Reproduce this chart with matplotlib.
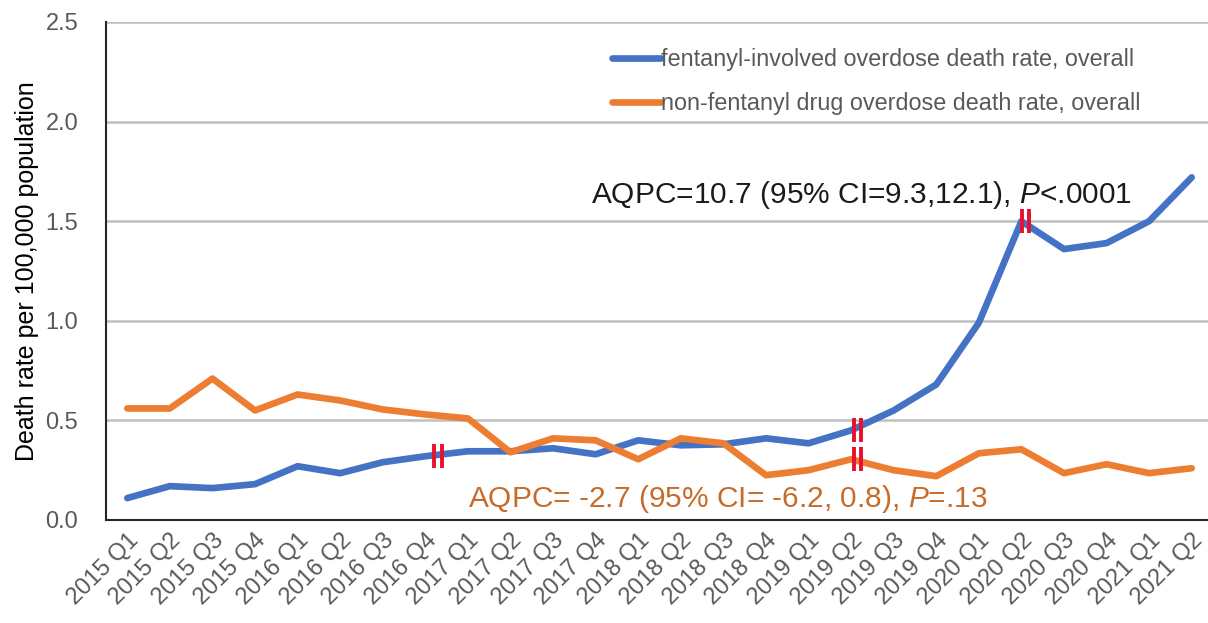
import numpy as np
import matplotlib
matplotlib.use("Agg")
import matplotlib.pyplot as plt

plt.rcParams['font.family'] = ['Liberation Sans', 'DejaVu Sans']
plt.rcParams['mathtext.fontset'] = 'custom'
plt.rcParams['mathtext.rm'] = 'Liberation Sans'
plt.rcParams['mathtext.it'] = 'Liberation Sans:italic'

quarters = [f"{y} Q{q}" for y in range(2015, 2022) for q in range(1, 5)][:26]

fentanyl = [0.11, 0.17, 0.16, 0.18, 0.27, 0.235, 0.29, 0.32, 0.345, 0.345,
            0.36, 0.33, 0.40, 0.375, 0.38, 0.41, 0.385, 0.45, 0.55, 0.68,
            0.99, 1.50, 1.36, 1.39, 1.50, 1.72]
non_fentanyl = [0.56, 0.56, 0.71, 0.55, 0.63, 0.60, 0.555, 0.53, 0.51, 0.34,
                0.41, 0.40, 0.305, 0.41, 0.385, 0.225, 0.25, 0.305, 0.25, 0.22,
                0.335, 0.355, 0.235, 0.28, 0.235, 0.26]

# joinpoint breaks: (quarter index, series, small x nudge)
breaks = [(7, 'fent', 0.3), (17, 'fent', 0.15), (17, 'non', 0.15), (21, 'fent', 0.1)]

blue = '#4472c4'
orange = '#ed7d31'
gray_text = '#595959'

fig = plt.figure(figsize=(12.08, 6.23), dpi=100)
ax = fig.add_axes([106 / 1208, 103 / 623, 1107 / 1208, 498 / 623])

x = np.arange(len(quarters))
ax.plot(x, fentanyl, color=blue, lw=4.8, solid_capstyle='round', solid_joinstyle='round',
        label='fentanyl-involved overdose death rate, overall', zorder=3)
ax.plot(x, non_fentanyl, color=orange, lw=4.8, solid_capstyle='round', solid_joinstyle='round',
        label='non-fentanyl drug overdose death rate, overall', zorder=3)

series = {'fent': fentanyl, 'non': non_fentanyl}
for idx, key, dx in breaks:
    yv = series[key][idx]
    for off in (-0.085, 0.085):
        ax.plot([idx + dx + off] * 2, [yv - 0.06, yv + 0.06], color='#e8112d',
                lw=2.8, zorder=4, solid_capstyle='butt')

ax.set_xlim(-0.5, len(quarters) - 0.5)
ax.set_ylim(0, 2.5)
ax.set_yticks(np.arange(0, 2.51, 0.5))
ax.set_yticklabels([f"{v:.1f}" for v in np.arange(0, 2.51, 0.5)])
ax.set_xticks(x)
ax.set_xticklabels(quarters, rotation=45, ha='right', rotation_mode='anchor')
ax.tick_params(axis='both', length=0, labelsize=17, colors=gray_text)
ax.tick_params(axis='x', pad=7)
ax.tick_params(axis='y', pad=20)
ax.grid(axis='y', color='#bfbfbf', lw=1.8)
ax.set_axisbelow(True)
for side in ('top', 'right'):
    ax.spines[side].set_visible(False)
ax.spines['left'].set_color('#262626')
ax.spines['bottom'].set_color('#262626')
ax.spines['left'].set_linewidth(1.5)
ax.spines['bottom'].set_linewidth(1.5)

ax.set_ylabel('Death rate per 100,000 population', fontsize=18, color='black', labelpad=5)

ax.text(23.6, 1.63, 'AQPC=10.7 (95% CI=9.3,12.1), $P$<.0001', fontsize=21.5,
        color='#1a1a1a', ha='right', va='center')
ax.text(8.0, 0.105, 'AQPC= -2.7 (95% CI= -6.2, 0.8), $P$=.13', fontsize=21.5,
        color='#c76b2a', ha='left', va='center')

ax.legend(loc='upper left', bbox_to_anchor=(612 / 1208, 0.923), bbox_transform=fig.transFigure,
          frameon=False, fontsize=16.8, handlelength=2.1, handletextpad=0.0,
          labelspacing=0.9, borderpad=0, borderaxespad=0, labelcolor=gray_text)

fig.savefig('out.png', dpi=100)
